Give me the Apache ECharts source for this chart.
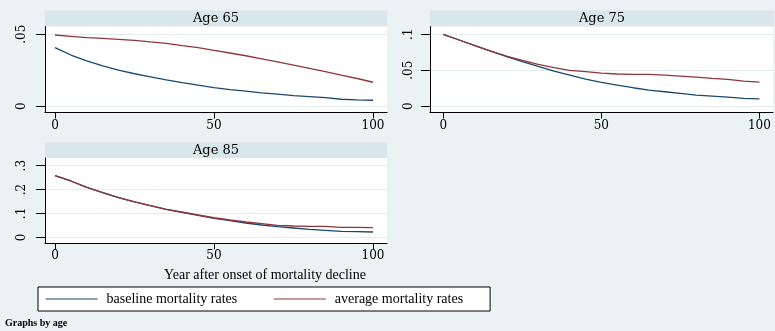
<!DOCTYPE html>
<html>
<head>
<meta charset="utf-8">
<script src="https://cdn.jsdelivr.net/npm/echarts@6/dist/echarts.min.js"></script>
<style>
html,body{margin:0;padding:0;background:#eaf2f3;}
#c{width:775px;height:331px;}
</style>
</head>
<body>
<div id="c"></div>
<script>
// ---- data ----
var years = [0,5,10,15,20,25,30,35,40,45,50,55,60,65,70,75,80,85,90,95,100];
var panelTitles = ['Age 65','Age 75','Age 85'];
var seriesNames = ['baseline mortality rates','average mortality rates'];

var base65 = [0.0407,0.0356,0.0316,0.0281,0.0251,0.0226,0.0205,0.0184,0.0165,0.0147,0.0130,0.0116,0.0105,0.0093,0.0084,0.0074,0.0067,0.0060,0.0049,0.0044,0.0042];
var avg65  = [0.0495,0.0486,0.0477,0.0472,0.0465,0.0458,0.0447,0.0437,0.0421,0.0407,0.0388,0.0370,0.0351,0.0330,0.0309,0.0286,0.0263,0.0240,0.0216,0.0193,0.0167];

var base75 = [0.1000,0.0921,0.0842,0.0767,0.0688,0.0619,0.0553,0.0488,0.0433,0.0377,0.0330,0.0293,0.0256,0.0223,0.0200,0.0177,0.0153,0.0140,0.0126,0.0107,0.0102];
var avg75  = [0.1000,0.0921,0.0842,0.0767,0.0698,0.0637,0.0581,0.0535,0.0498,0.0479,0.0460,0.0447,0.0442,0.0442,0.0433,0.0419,0.0405,0.0386,0.0372,0.0349,0.0335];

var base85 = [0.258,0.236,0.209,0.187,0.166,0.148,0.133,0.117,0.105,0.0915,0.0795,0.0698,0.0600,0.0516,0.0447,0.0391,0.0335,0.0293,0.0251,0.0237,0.0223];
var avg85  = [0.258,0.236,0.209,0.187,0.166,0.148,0.133,0.117,0.105,0.0935,0.0820,0.0726,0.0642,0.0572,0.0502,0.0474,0.0460,0.0460,0.0419,0.0419,0.0405];

var xTicks = [0,50,100];
var yTicks65 = [0,0.05];
var yTicks75 = [0,0.05,0.1];
var yTicks85 = [0,0.1,0.2,0.3];
var xTitle = 'Year after onset of mortality decline';
var note = 'Graphs by age';

// ---- styling / layout ----
var BLUE = '#1a476f', RED = '#90353b';
var SERIF = '"Liberation Serif", "DejaVu Serif", serif';
var NUMF = '"DejaVu Serif", serif';

function pairs(xs, ys){ return xs.map(function(x,i){ return [x, ys[i]]; }); }
function fmt(v){ if (v === 0) return '0'; return String(+v.toFixed(4)).replace(/^0\./, '.'); }

var grids = [
  {left:45, top:26.5, width:342, height:86, backgroundColor:'#ffffff', show:true, borderWidth:0},
  {left:430, top:26.5, width:343, height:86, backgroundColor:'#ffffff', show:true, borderWidth:0},
  {left:45, top:158, width:342, height:85.3, backgroundColor:'#ffffff', show:true, borderWidth:0}
];
var xr = [[-3.14,104.4],[-4.21,104.3],[-3.14,104.4]];
var yr = [[-0.0043,0.0554],[-0.0089,0.1109],[-0.0251,0.3323]];
var yt = [yTicks65, yTicks75, yTicks85];
var ym = [17, 15, 17];

var xAxes = [], yAxes = [];
for (var i=0;i<3;i++){
  xAxes.push({
    type:'value', gridIndex:i, min:xr[i][0], max:xr[i][1],
    axisLine:{show:true, onZero:false, lineStyle:{color:'#000', width:1}},
    axisTick:{show:true, length:6, customValues:xTicks, lineStyle:{color:'#000'}},
    axisLabel:{customValues:xTicks, margin:7, color:'#000', fontFamily:NUMF, fontSize:12, formatter:fmt},
    splitLine:{show:false}
  });
  yAxes.push({
    type:'value', gridIndex:i, min:yr[i][0], max:yr[i][1],
    axisLine:{show:true, onZero:false, lineStyle:{color:'#000', width:1}},
    axisTick:{show:true, length:9, customValues:yt[i], lineStyle:{color:'#000'}},
    axisLabel:{customValues:yt[i], rotate:90, margin:ym[i], color:'#000', fontFamily:NUMF, fontSize:12, formatter:fmt},
    splitLine:{show:true, lineStyle:{color:'#e3ecef', width:1}}
  });
}

var baseData = [base65, base75, base85];
var avgData = [avg65, avg75, avg85];
var series = [];
for (var j=0;j<3;j++){
  series.push({name:seriesNames[0], type:'line', xAxisIndex:j, yAxisIndex:j, data:pairs(years, baseData[j]),
    symbol:'none', lineStyle:{color:BLUE, width:1.3}, itemStyle:{color:BLUE}, animation:false, z:2});
  series.push({name:seriesNames[1], type:'line', xAxisIndex:j, yAxisIndex:j, data:pairs(years, avgData[j]),
    symbol:'none', lineStyle:{color:RED, width:1.3}, itemStyle:{color:RED}, animation:false, z:3});
}

var strips = [
  {x:45, y:10.5, w:342, h:16, cx:216, cy:18.5, t:panelTitles[0]},
  {x:430, y:10.5, w:344, h:16, cx:602, cy:18.5, t:panelTitles[1]},
  {x:45, y:142.5, w:342, h:15.5, cx:216, cy:150.5, t:panelTitles[2]}
];
var graphics = [];
strips.forEach(function(s){
  graphics.push({type:'rect', shape:{x:s.x, y:s.y, width:s.w, height:s.h}, style:{fill:'#d9e6eb'}, silent:true});
  graphics.push({type:'text', x:s.cx, y:s.cy, style:{text:s.t, fill:'#000', font:'13px "DejaVu Serif", serif', textAlign:'center', textVerticalAlign:'middle'}, silent:true});
});
graphics.push({type:'text', x:265, y:275, style:{text:xTitle, fill:'#000', font:'14px ' + SERIF, textAlign:'center', textVerticalAlign:'middle'}, silent:true});
graphics.push({type:'text', x:5, y:323, style:{text:note, fill:'#000', font:'bold 10px ' + SERIF, textAlign:'left', textVerticalAlign:'middle'}, silent:true});

var chart = echarts.init(document.getElementById('c'), null, {renderer:'canvas'});
chart.setOption({
  backgroundColor:'#eaf2f3',
  animation:false,
  grid:grids,
  xAxis:xAxes,
  yAxis:yAxes,
  legend:{
    data:seriesNames, left:38, top:287, orient:'horizontal',
    padding:[5,27,5,7], itemWidth:52, itemHeight:14, itemGap:36,
    backgroundColor:'#ffffff', borderColor:'#000', borderWidth:1,
    itemStyle:{opacity:0},
    lineStyle:{width:1.2},
    textStyle:{color:'#000', fontFamily:SERIF, fontSize:14, lineHeight:14, padding:[0,0,0,4]},
    selectedMode:false
  },
  graphic:graphics,
  series:series
});
</script>
</body>
</html>
